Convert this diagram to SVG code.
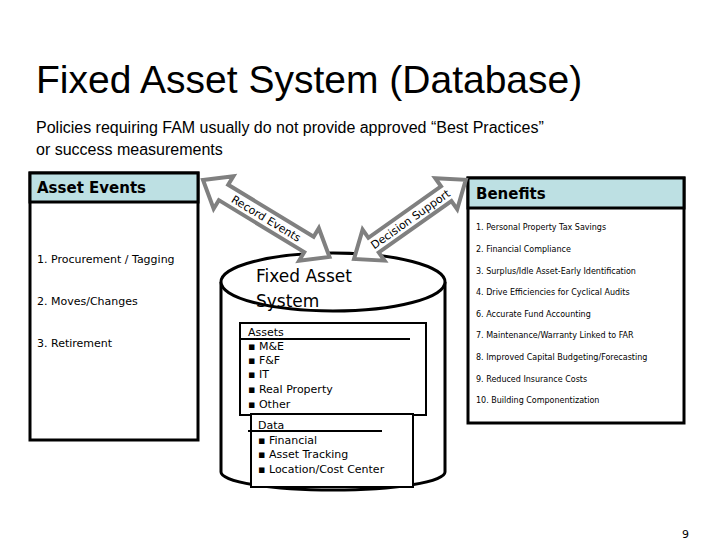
<svg xmlns="http://www.w3.org/2000/svg" width="720" height="540" viewBox="0 0 720 540">
<style>
.t{font-family:"Liberation Sans",Arial,sans-serif;fill:#000}
.d{font-family:"DejaVu Sans",Verdana,sans-serif;fill:#000}
.box{fill:#fff;stroke:#000;stroke-width:3}
.hdr{fill:#bde0e3;stroke:#000;stroke-width:3}
.arr{fill:#fff;stroke:#808080;stroke-width:4;stroke-linejoin:miter}
</style>
<rect width="720" height="540" fill="#fff"/>
<text class="t" x="36" y="93" font-size="39">Fixed Asset System (Database)</text>
<text class="t" x="36" y="133" font-size="16">Policies requiring FAM usually do not provide approved “Best Practices”</text>
<text class="t" x="36" y="155" font-size="16">or success measurements</text>

<g id="asset-events">
<rect class="box" x="30" y="173" width="168" height="267"/>
<rect class="hdr" x="30" y="173" width="168" height="29"/>
<text class="d" x="37" y="193" font-size="15" font-weight="bold">Asset Events</text>
<text class="d" x="37" y="263" font-size="11">1.  Procurement / Tagging</text>
<text class="d" x="37" y="305" font-size="11">2.  Moves/Changes</text>
<text class="d" x="37" y="347" font-size="11">3.  Retirement</text>
</g>

<g id="benefits">
<rect class="box" x="468" y="178" width="216" height="245"/>
<rect class="hdr" x="468" y="178" width="216" height="30"/>
<text class="d" x="476" y="199" font-size="15" font-weight="bold">Benefits</text>
<g class="d" font-size="8">
<text x="476" y="230">1.    Personal Property Tax Savings</text>
<text x="476" y="252">2.   Financial Compliance</text>
<text x="476" y="274">3.   Surplus/Idle Asset-Early Identification</text>
<text x="476" y="295">4.   Drive Efficiencies for Cyclical Audits</text>
<text x="476" y="317">6.   Accurate Fund Accounting</text>
<text x="476" y="338">7.   Maintenance/Warranty Linked to FAR</text>
<text x="476" y="360">8.   Improved Capital Budgeting/Forecasting</text>
<text x="476" y="382">9.    Reduced Insurance Costs</text>
<text x="476" y="403">10.    Building Componentization</text>
</g>
</g>

<g id="fixed-asset-system">
<path d="M221,282 L221,472 A112,18 0 0 0 445,472 L445,282" fill="#fff" stroke="#000" stroke-width="3"/>
<ellipse cx="333" cy="282" rx="112" ry="29" fill="#fff" stroke="#000" stroke-width="3"/>
<text class="d" x="256" y="282" font-size="17">Fixed Asset</text>
<text class="d" x="256" y="307" font-size="17">System</text>
<rect x="240" y="323" width="186" height="92" fill="#fff" stroke="#000" stroke-width="2"/>
<line x1="240" y1="339" x2="410" y2="339" stroke="#000" stroke-width="2"/>
<g class="d" font-size="11">
<text x="248" y="336">Assets</text>
<text x="248" y="350">▪ M&amp;E</text>
<text x="248" y="364">▪ F&amp;F</text>
<text x="248" y="378">▪ IT</text>
<text x="248" y="393">▪ Real Property</text>
<text x="248" y="408">▪ Other</text>
</g>
<rect x="251" y="414" width="162" height="73" fill="#fff" stroke="#000" stroke-width="2"/>
<line x1="248" y1="431" x2="382" y2="431" stroke="#000" stroke-width="2"/>
<g class="d" font-size="11">
<text x="258" y="429">Data</text>
<text x="258" y="444">▪ Financial</text>
<text x="258" y="458">▪ Asset Tracking</text>
<text x="258" y="473">▪ Location/Cost Center</text>
</g>
</g>

<g id="connectors">
<g transform="translate(203,180) rotate(31.3)">
<path class="arr" d="M0,0 L24,-19 L24,-9 L124,-9 L124,-19 L148,0 L124,19 L124,9 L24,9 L24,19 Z"/>
<text class="d" x="74" y="4" font-size="11" text-anchor="middle">Record Events</text>
</g>
<g transform="translate(354,259) rotate(-35.3)">
<path class="arr" d="M0,0 L24,-19 L24,-9 L113,-9 L113,-19 L137,0 L113,19 L113,9 L24,9 L24,19 Z"/>
<text class="d" x="69" y="4" font-size="11" text-anchor="middle">Decision Support</text>
</g>
</g>
<text class="d" x="682" y="538" font-size="11">9</text>
</svg>
